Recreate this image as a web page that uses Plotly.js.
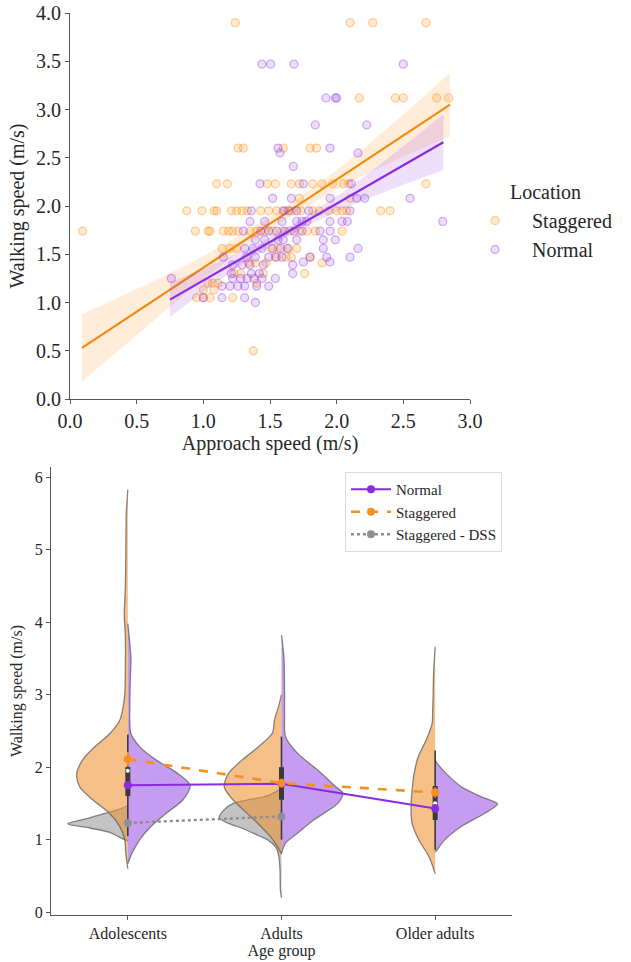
<!DOCTYPE html>
<html><head><meta charset="utf-8">
<script src="https://cdn.plot.ly/plotly-3.0.1.min.js"></script>
<style>body{margin:0;padding:0;background:#fff}#chart{width:631px;height:962px}</style>
</head><body>
<div id="chart"></div>
<script>
// ---------- Top panel: approach speed vs walking speed ----------
const staggeredApproach = [
1.24,2.10,2.27,2.67,
2.17,2.44,2.50,2.75,2.84,
1.26,1.30,1.60,1.80,1.85,
1.10,1.18,1.48,1.54,1.66,1.72,1.82,1.89,1.97,2.05,2.09,2.67,
1.72,2.10,
0.875,0.99,1.08,1.10,1.21,1.25,1.29,1.33,1.43,1.49,1.55,1.61,1.66,1.73,1.82,1.87,1.94,2.00,2.04,2.075,2.33,2.40,
0.095,0.94,1.035,1.05,1.15,1.19,1.22,1.26,1.35,1.40,1.46,1.52,1.59,1.65,1.72,1.78,1.84,2.04,
1.14,1.20,1.25,1.51,1.56,1.64,1.70,
1.55,1.62,1.66,1.80,
1.34,1.39,1.47,1.89,
1.23,1.28,1.45,1.76,
1.035,1.07,1.11,1.40,
1.00,1.08,
0.95,1.00,1.05,1.22,
1.375];
const staggeredWalking = [
3.90,3.90,3.90,3.90,
3.12,3.12,3.12,3.12,3.12,
2.60,2.60,2.60,2.60,2.60,
2.23,2.23,2.23,2.23,2.23,2.23,2.23,2.23,2.23,2.23,2.23,2.23,
2.08,2.08,
1.95,1.95,1.95,1.95,1.95,1.95,1.95,1.95,1.95,1.95,1.95,1.95,1.95,1.95,1.95,1.95,1.95,1.95,1.95,1.95,1.95,1.95,
1.74,1.74,1.74,1.74,1.74,1.74,1.74,1.74,1.74,1.74,1.74,1.74,1.74,1.74,1.74,1.74,1.74,1.74,
1.56,1.56,1.56,1.56,1.56,1.56,1.56,
1.47,1.47,1.47,1.47,
1.41,1.41,1.41,1.41,
1.30,1.30,1.30,1.30,
1.20,1.20,1.20,1.20,
1.13,1.13,
1.05,1.05,1.05,1.05,
0.50];
const normalApproach = [
1.44,1.505,1.68,2.50,
1.92,1.99,2.00,
1.84,2.225,
1.56,1.95,
1.575,2.16,
1.675,
1.425,1.75,2.11,
1.52,1.66,1.95,2.15,2.21,2.55,
1.36,1.60,1.64,1.70,1.79,2.10,
1.35,1.46,1.59,1.70,1.74,1.775,1.95,2.04,2.08,2.795,
1.30,1.43,1.49,1.55,1.61,1.68,1.74,1.875,1.95,
1.39,1.46,1.56,1.60,1.70,1.90,1.99,
1.31,1.37,1.44,1.52,1.58,1.63,1.90,2.16,
1.15,1.325,1.39,1.49,1.54,1.59,1.80,1.925,2.10,
1.22,1.29,1.35,1.45,1.67,
1.75,1.95,
1.21,1.36,1.42,1.67,
0.76,1.22,1.28,1.33,1.38,1.44,1.54,
1.14,1.20,1.26,1.31,1.40,1.49,
1.00,1.14,1.31,
1.39];
const normalWalking = [
3.47,3.47,3.47,3.47,
3.12,3.12,3.12,
2.84,2.84,
2.60,2.60,
2.55,2.55,
2.41,
2.23,2.23,2.23,
2.08,2.08,2.08,2.08,2.08,2.08,
1.95,1.95,1.95,1.95,1.95,1.95,
1.84,1.84,1.84,1.84,1.84,1.84,1.84,1.84,1.84,1.84,
1.74,1.74,1.74,1.74,1.74,1.74,1.74,1.74,1.74,
1.65,1.65,1.65,1.65,1.65,1.65,1.65,
1.56,1.56,1.56,1.56,1.56,1.56,1.56,1.56,
1.47,1.47,1.47,1.47,1.47,1.47,1.47,1.47,1.47,
1.39,1.39,1.39,1.39,1.39,
1.42,1.42,
1.30,1.30,1.30,1.30,
1.25,1.25,1.25,1.25,1.25,1.25,1.25,
1.17,1.17,1.17,1.17,1.17,1.17,
1.05,1.05,1.05,
1.00];

// regression fits and confidence bands
const staggeredFitX = [0.09, 2.85];
const staggeredFitY = [0.53, 3.05];
const normalFitX = [0.75, 2.80];
const normalFitY = [1.03, 2.66];
const staggeredCiX = [0.09, 0.5, 1.0, 1.5, 2.0, 2.5, 2.85];
const staggeredCiLow = [0.18, 0.66, 1.24, 1.75, 2.17, 2.51, 2.72];
const staggeredCiHigh = [0.88, 1.14, 1.48, 1.89, 2.37, 2.95, 3.38];
const normalCiX = [0.75, 1.0, 1.5, 2.0, 2.5, 2.8];
const normalCiLow = [0.85, 1.11, 1.58, 1.94, 2.22, 2.37];
const normalCiHigh = [1.21, 1.35, 1.68, 2.10, 2.62, 2.95];

// ---------- Bottom panel: split violins by age group ----------
const ageGroups = ['Adolescents', 'Adults', 'Older adults'];
// half-violin profiles: walking speed levels and half widths (category units)
const adolStaggeredY = [5.83,5.5,5.0,4.5,4.1,3.8,3.4,3.0,2.8,2.65,2.46,2.28,2.1,1.91,1.73,1.55,1.36,1.18,1.0,0.8,0.6];
const adolStaggeredW = [0,0.010,0.013,0.016,0.023,0.016,0.016,0.020,0.033,0.052,0.118,0.216,0.294,0.333,0.314,0.229,0.118,0.052,0.020,0.013,0];
const adolNormalY = [3.98,3.7,3.5,3.2,2.9,2.6,2.46,2.28,2.1,1.91,1.75,1.55,1.36,1.18,1.0,0.81,0.67];
const adolNormalW = [0,0.013,0.020,0.016,0.013,0.013,0.020,0.078,0.183,0.327,0.405,0.359,0.248,0.150,0.078,0.026,0];
const adolDssY = [1.47,1.42,1.38,1.30,1.22,1.16,1.10,1.03,0.98];
const adolDssW = [0,0.052,0.118,0.248,0.392,0.248,0.118,0.052,0];
const adultStaggeredY = [3.0,2.83,2.65,2.47,2.28,2.1,1.91,1.73,1.59,1.41,1.23,1.04,0.9,0.8];
const adultStaggeredW = [0,0.020,0.046,0.059,0.150,0.255,0.346,0.373,0.333,0.248,0.157,0.072,0.026,0];
const adultNormalY = [3.82,3.5,3.0,2.7,2.42,2.19,1.96,1.73,1.64,1.50,1.27,1.09,0.95,0.81];
const adultNormalW = [0,0.016,0.020,0.020,0.026,0.105,0.235,0.353,0.399,0.366,0.209,0.105,0.026,0];
const adultDssY = [1.7,1.6,1.55,1.5,1.4,1.3,1.22,1.15,1.05,1.0,0.9,0.8,0.6,0.3,0.2];
const adultDssW = [0,0.098,0.209,0.314,0.379,0.405,0.340,0.248,0.144,0.092,0.039,0.020,0.010,0.007,0];
const olderStaggeredY = [3.66,3.3,3.0,2.8,2.6,2.37,2.14,1.91,1.68,1.45,1.22,0.99,0.76,0.53];
const olderStaggeredW = [0,0.010,0.013,0.016,0.020,0.059,0.111,0.137,0.150,0.157,0.150,0.105,0.039,0];
const olderNormalY = [2.1,2.05,1.91,1.73,1.59,1.49,1.36,1.18,0.99,0.86,0.83];
const olderNormalW = [0,0.013,0.072,0.170,0.301,0.405,0.320,0.170,0.059,0.013,0];

// inner box summaries per age group
const boxLow = [1.05, 1.00, 0.86];
const boxQ1 = [1.60, 1.55, 1.27];
const boxMedian = [1.95, 1.75, 1.50];
const boxQ3 = [2.00, 2.00, 1.74];
const boxHigh = [2.45, 2.42, 2.23];

// point-plot means and error
const normalMeans = [1.75, 1.77, 1.43];
const normalErr = [0.06, 0.05, 0.06];
const staggeredMeans = [2.11, 1.78, 1.65];
const staggeredErr = [0.10, 0.06, 0.07];
const dssMeans = [1.23, 1.32];
const dssErr = [0.03, 0.03];

// ---------- styles ----------
const FONT = 'Times New Roman';
const ORANGE = '#f28b0c';
const PURPLE = '#8a2be2';
const GRAY = '#8c8c8c';
const TXT = '#262626';

const traces = [];
// top panel
traces.push({type:'scatter', mode:'markers', x:staggeredApproach, y:staggeredWalking, name:'Staggered',
  legend:'legend', xaxis:'x', yaxis:'y',
  marker:{size:8, color:'rgba(255,140,0,0.18)', line:{color:'rgba(255,140,0,0.38)', width:1.3}}});
traces.push({type:'scatter', mode:'lines', x:staggeredCiX, y:staggeredCiLow, showlegend:false, xaxis:'x', yaxis:'y',
  line:{width:0, shape:'spline', color:'rgba(0,0,0,0)'}, hoverinfo:'skip'});
traces.push({type:'scatter', mode:'lines', x:staggeredCiX, y:staggeredCiHigh, showlegend:false, xaxis:'x', yaxis:'y',
  fill:'tonexty', fillcolor:'rgba(255,150,30,0.17)', line:{width:0, shape:'spline', color:'rgba(0,0,0,0)'}, hoverinfo:'skip'});
traces.push({type:'scatter', mode:'lines', x:staggeredFitX, y:staggeredFitY, showlegend:false, xaxis:'x', yaxis:'y',
  line:{color:ORANGE, width:2.2}});
traces.push({type:'scatter', mode:'markers', x:normalApproach, y:normalWalking, name:'Normal',
  legend:'legend', xaxis:'x', yaxis:'y',
  marker:{size:8, color:'rgba(138,43,226,0.16)', line:{color:'rgba(138,43,226,0.36)', width:1.3}}});
traces.push({type:'scatter', mode:'lines', x:normalCiX, y:normalCiLow, showlegend:false, xaxis:'x', yaxis:'y',
  line:{width:0, shape:'spline', color:'rgba(0,0,0,0)'}, hoverinfo:'skip'});
traces.push({type:'scatter', mode:'lines', x:normalCiX, y:normalCiHigh, showlegend:false, xaxis:'x', yaxis:'y',
  fill:'tonexty', fillcolor:'rgba(138,43,226,0.15)', line:{width:0, shape:'spline', color:'rgba(0,0,0,0)'}, hoverinfo:'skip'});
traces.push({type:'scatter', mode:'lines', x:normalFitX, y:normalFitY, showlegend:false, xaxis:'x', yaxis:'y',
  line:{color:PURPLE, width:2.2}});

// bottom panel: half violins
function halfViolin(groupIndex, ys, ws, side, fill) {
  return {type:'scatter', mode:'lines', xaxis:'x2', yaxis:'y2', showlegend:false, hoverinfo:'skip',
    x: ws.map(w => groupIndex + side * w), y: ys, fill:'toself', fillcolor: fill,
    line:{color:'rgba(95,95,95,0.75)', width:1.3, shape:'spline', smoothing:0.8}};
}
const FILL_O = 'rgba(236,146,50,0.58)';
const FILL_P = 'rgba(150,75,225,0.55)';
const FILL_G = 'rgba(135,135,135,0.5)';
traces.push(halfViolin(0, adolDssY, adolDssW, -1, FILL_G));
traces.push(halfViolin(1, adultDssY, adultDssW, -1, FILL_G));
traces.push(halfViolin(0, adolStaggeredY, adolStaggeredW, -1, FILL_O));
traces.push(halfViolin(1, adultStaggeredY, adultStaggeredW, -1, FILL_O));
traces.push(halfViolin(2, olderStaggeredY, olderStaggeredW, -1, FILL_O));
traces.push(halfViolin(0, adolNormalY, adolNormalW, 1, FILL_P));
traces.push(halfViolin(1, adultNormalY, adultNormalW, 1, FILL_P));
traces.push(halfViolin(2, olderNormalY, olderNormalW, 1, FILL_P));

// inner boxes
const whiskX = [], whiskY = [], iqrX = [], iqrY = [];
[0,1,2].forEach(i => {
  whiskX.push(i, i, null); whiskY.push(boxLow[i], boxHigh[i], null);
  iqrX.push(i, i, null); iqrY.push(boxQ1[i], boxQ3[i], null);
});
traces.push({type:'scatter', mode:'lines', x:whiskX, y:whiskY, xaxis:'x2', yaxis:'y2', showlegend:false,
  line:{color:'#3a3a3a', width:1.6}, hoverinfo:'skip'});
traces.push({type:'scatter', mode:'lines', x:iqrX, y:iqrY, xaxis:'x2', yaxis:'y2', showlegend:false,
  line:{color:'#3a3a3a', width:5}, hoverinfo:'skip'});
traces.push({type:'scatter', mode:'markers', x:[0,1,2], y:boxMedian, xaxis:'x2', yaxis:'y2', showlegend:false,
  marker:{color:'white', size:4}, hoverinfo:'skip'});

// point plots
traces.push({type:'scatter', mode:'lines+markers', x:[0,1,2], y:normalMeans, name:'Normal', legend:'legend2',
  xaxis:'x2', yaxis:'y2', line:{color:PURPLE, width:2}, marker:{color:PURPLE, size:8},
  error_y:{type:'data', array:normalErr, color:PURPLE, thickness:2, width:0}});
traces.push({type:'scatter', mode:'lines+markers', x:[0,1,2], y:staggeredMeans, name:'Staggered', legend:'legend2',
  xaxis:'x2', yaxis:'y2', line:{color:'#f5901e', width:2.6, dash:'dash'}, marker:{color:'#f5901e', size:8},
  error_y:{type:'data', array:staggeredErr, color:'#f5901e', thickness:2, width:0}});
traces.push({type:'scatter', mode:'lines+markers', x:[0,1], y:dssMeans, name:'Staggered - DSS', legend:'legend2',
  xaxis:'x2', yaxis:'y2', line:{color:GRAY, width:2.4, dash:'dot'}, marker:{color:'#8f8f9a', size:8},
  error_y:{type:'data', array:dssErr, color:GRAY, thickness:2, width:0}});

const W = 631, H = 962;
const axisCommon = {showgrid:false, zeroline:false, showline:true, linecolor:'#555', linewidth:1,
  ticks:'outside', ticklen:4, tickcolor:'#555', tickwidth:1};

const layout = {
  width:W, height:H, margin:{l:0, r:0, t:0, b:0}, paper_bgcolor:'white', plot_bgcolor:'white',
  font:{family:FONT, color:TXT},
  xaxis: Object.assign({}, axisCommon, {domain:[70/W, 470/W], range:[0, 3], tickvals:[0,0.5,1,1.5,2,2.5,3],
    tickformat:'.1f', tickfont:{size:20, family:FONT, color:TXT}, anchor:'y',
    title:{text:'Approach speed (m/s)', font:{size:20, family:FONT, color:TXT}, standoff:0}}),
  yaxis: Object.assign({}, axisCommon, {domain:[1-399/H, 1-13/H], range:[0, 4], tickvals:[0,0.5,1,1.5,2,2.5,3,3.5,4],
    tickformat:'.1f', tickfont:{size:20, family:FONT, color:TXT}, anchor:'x',
    title:{text:'Walking speed (m/s)', font:{size:20, family:FONT, color:TXT}, standoff:6}}),
  xaxis2: Object.assign({}, axisCommon, {domain:[51/W, 512/W], range:[-0.5, 2.5], tickvals:[0,1,2], ticktext:ageGroups,
    tickfont:{size:16, family:FONT, color:TXT}, anchor:'y2',
    title:{text:'Age group', font:{size:16, family:FONT, color:TXT}, standoff:0}}),
  yaxis2: Object.assign({}, axisCommon, {domain:[1-915/H, 1-467/H], range:[-0.04, 6.14], tickvals:[0,1,2,3,4,5,6],
    tickfont:{size:16, family:FONT, color:TXT}, anchor:'x2',
    title:{text:'Walking speed (m/s)', font:{size:16, family:FONT, color:TXT}, standoff:8}}),
  legend:{x:458/W, y:1-201/H, xanchor:'left', yanchor:'top', bgcolor:'rgba(0,0,0,0)', borderwidth:0,
    font:{size:20, family:FONT, color:TXT}, itemwidth:64, traceorder:'normal'},
  legend2:{x:345/W, y:1-472/H, xanchor:'left', yanchor:'top', bgcolor:'white', bordercolor:'#dddddd', borderwidth:1,
    font:{size:15, family:FONT, color:TXT}, itemwidth:40, traceorder:'normal'},
  annotations:[{text:'Location', xref:'paper', yref:'paper', x:508/W, y:1-192/H, xanchor:'left', yanchor:'middle',
    showarrow:false, font:{size:20, family:FONT, color:TXT}}],
  showlegend:true
};

Plotly.newPlot('chart', traces, layout, {displayModeBar:false, staticPlot:true});
</script>
</body></html>
